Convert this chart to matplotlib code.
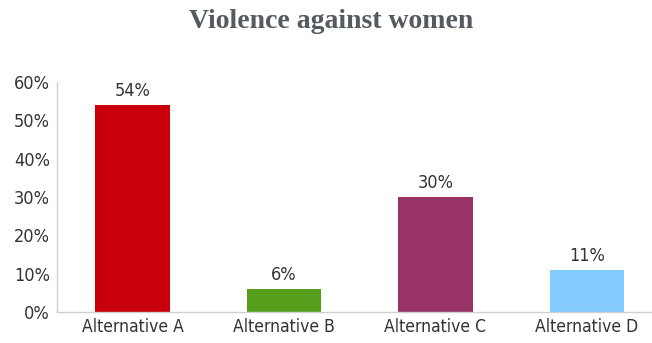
import matplotlib.pyplot as plt
from matplotlib.ticker import FuncFormatter

# data
categories = ['Alternative A', 'Alternative B', 'Alternative C', 'Alternative D']
values = [54, 6, 30, 11]
colors = ['#c9000b', '#579d1c', '#993366', '#83caff']

plt.rcParams['font.family'] = ['DejaVu Sans']
plt.rcParams['font.stretch'] = 'condensed'

fig = plt.figure(figsize=(6.52, 3.43), dpi=100)
ax = fig.add_axes([0.087, 0.090, 0.913, 0.671])

bars = ax.bar(range(len(categories)), values, width=0.49, color=colors)
for b, v in zip(bars, values):
    ax.text(b.get_x() + b.get_width() / 2, v + 1.3, f'{v}%',
            ha='center', va='bottom', fontsize=13, color='#333333',
            fontstretch='condensed')

ax.set_xlim(-0.5, 3.43)
ax.set_ylim(0, 60)
ax.set_yticks(range(0, 61, 10))
ax.yaxis.set_major_formatter(FuncFormatter(lambda v, p: f'{int(v)}%'))
ax.set_xticks(range(len(categories)))
ax.set_xticklabels(categories)

for lab in ax.get_yticklabels():
    lab.set_fontsize(13)
    lab.set_color('#333333')
    lab.set_fontstretch('condensed')
for lab in ax.get_xticklabels():
    lab.set_fontsize(12.5)
    lab.set_color('#333333')
    lab.set_fontstretch('condensed')
ax.tick_params(length=0, pad=4)
ax.tick_params(axis='y', pad=5)

for s in ['top', 'right']:
    ax.spines[s].set_visible(False)
for s in ['left', 'bottom']:
    ax.spines[s].set_color('#d0d0d0')
    ax.spines[s].set_linewidth(1)

fig.text(0.508, 0.936, 'Violence against women', ha='center', va='center',
         fontsize=20, fontweight='bold', family='Liberation Serif', color='#555a60')

fig.savefig('out.png', dpi=100)
